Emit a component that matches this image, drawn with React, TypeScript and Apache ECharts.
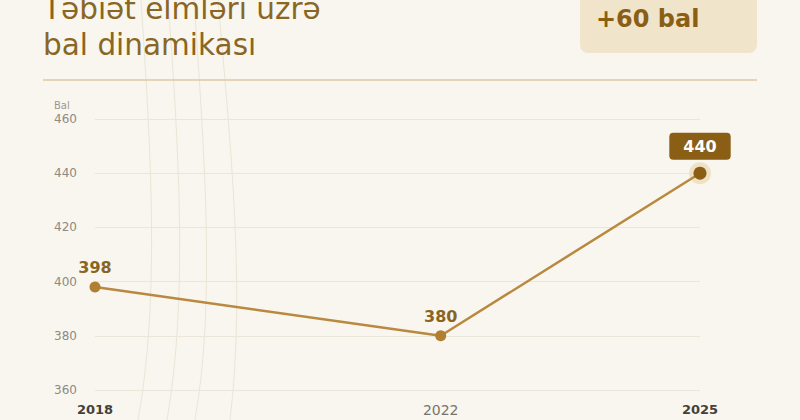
import React, { useEffect, useRef } from "react";
import * as echarts from "echarts";

const years = [2018, 2022, 2025];
const scores = [398, 380, 440];
const xTickLabels = [2018, 2022, 2025];
const yTicks = { min: 360, max: 460, interval: 20 };
const titleLines = ["Təbiət elmləri üzrə", "bal dinamikası"];
const badgeText = "+60 bal";
const unitText = "Bal";

export default function App() {
  const ref = useRef<HTMLDivElement>(null);
  useEffect(() => {
    if (!ref.current) return;
    const chart = echarts.init(ref.current, null, { renderer: "svg" });
    const font = "DejaVu Sans";
    const lastIdx = scores.length - 1;
    const data = years.map((y, i) => {
      if (i === lastIdx) {
        return {
          value: [y, scores[i]],
          symbolSize: 13,
          itemStyle: { color: "#8b5e15" },
          label: {
            show: true,
            position: "top",
            distance: 7,
            color: "#ffffff",
            fontWeight: "bold",
            fontSize: 16,
            fontFamily: font,
            backgroundColor: "#8b5e15",
            borderRadius: 4,
            padding: [6, 14, 5, 14],
          },
        };
      }
      return { value: [y, scores[i]] };
    });
    const arcs = [
      [141, 0, 151, 150, 160, 300, 138, 420],
      [168, 0, 179, 150, 188, 300, 167, 420],
      [194, 0, 204, 150, 216, 300, 195, 420],
      [218, 0, 230, 140, 246, 290, 230, 420],
    ];
    const titleFont = `29.5px "${font}"`;
    chart.setOption({
      animation: false,
      backgroundColor: "#f9f6ef",
      graphic: [
        ...arcs.map((a) => ({
          type: "bezierCurve",
          z: -10,
          silent: true,
          shape: { x1: a[0], y1: a[1], cpx1: a[2], cpy1: a[3], cpx2: a[4], cpy2: a[5], x2: a[6], y2: a[7] },
          style: { stroke: "#ebe5d7", lineWidth: 1, fill: null },
        })),
        {
          type: "rect",
          shape: { x: 580, y: -12, width: 177, height: 65, r: 8 },
          style: { fill: "#f0e4cb" },
        },
        {
          type: "text",
          x: 596,
          y: 18.5,
          style: {
            text: badgeText,
            fill: "#8b5e15",
            font: `bold 24px "${font}"`,
            verticalAlign: "middle",
          },
        },
        {
          type: "text",
          x: 43,
          y: 8.8,
          style: {
            text: titleLines[0],
            fill: "#8a6625",
            font: titleFont,
            verticalAlign: "middle",
          },
        },
        {
          type: "text",
          x: 43,
          y: 44.8,
          style: {
            text: titleLines[1],
            fill: "#8a6625",
            font: titleFont,
            verticalAlign: "middle",
          },
        },
        {
          type: "line",
          shape: { x1: 43, y1: 80, x2: 757, y2: 80 },
          style: { stroke: "#dcc8a2", lineWidth: 1.5 },
        },
        {
          type: "text",
          x: 54,
          y: 105,
          style: {
            text: unitText,
            fill: "#9a978e",
            font: `10px "${font}"`,
            verticalAlign: "middle",
          },
        },
      ],
      grid: { left: 95, right: 100, top: 119, bottom: 30, containLabel: false },
      xAxis: {
        type: "value",
        min: 2018,
        max: 2025,
        axisLine: { show: false },
        axisTick: { show: false },
        splitLine: { show: false },
        axisLabel: {
          customValues: xTickLabels,
          margin: 13,
          fontFamily: font,
          formatter: (v: number) => (v === 2022 ? `{n|${v}}` : `{b|${v}}`),
          rich: {
            b: { fontWeight: "bold", color: "#45413a", fontSize: 13, fontFamily: font },
            n: { color: "#77746b", fontSize: 14, fontFamily: font },
          },
        },
      },
      yAxis: {
        type: "value",
        min: yTicks.min,
        max: yTicks.max,
        interval: yTicks.interval,
        axisLine: { show: false },
        axisTick: { show: false },
        splitLine: { lineStyle: { color: "#ece6da", width: 1 } },
        axisLabel: { color: "#8c8a82", fontSize: 12, fontFamily: font, margin: 18 },
      },
      series: [
        {
          type: "scatter",
          data: [[years[lastIdx], scores[lastIdx]]],
          symbol: "circle",
          symbolSize: 22,
          z: 4,
          silent: true,
          itemStyle: { color: "#ecdcb8" },
        },
        {
          type: "line",
          data,
          symbol: "circle",
          symbolSize: 11,
          z: 5,
          lineStyle: { color: "#b8893e", width: 2.5 },
          itemStyle: { color: "#b07f33" },
          label: {
            show: true,
            position: "top",
            distance: 6,
            color: "#8b6420",
            fontWeight: "bold",
            fontSize: 16,
            fontFamily: font,
          },
        },
      ],
    });
    return () => chart.dispose();
  }, []);
  return (
    <div
      ref={ref}
      style={{ position: "fixed", left: 0, top: 0, width: 800, height: 420 }}
    />
  );
}
